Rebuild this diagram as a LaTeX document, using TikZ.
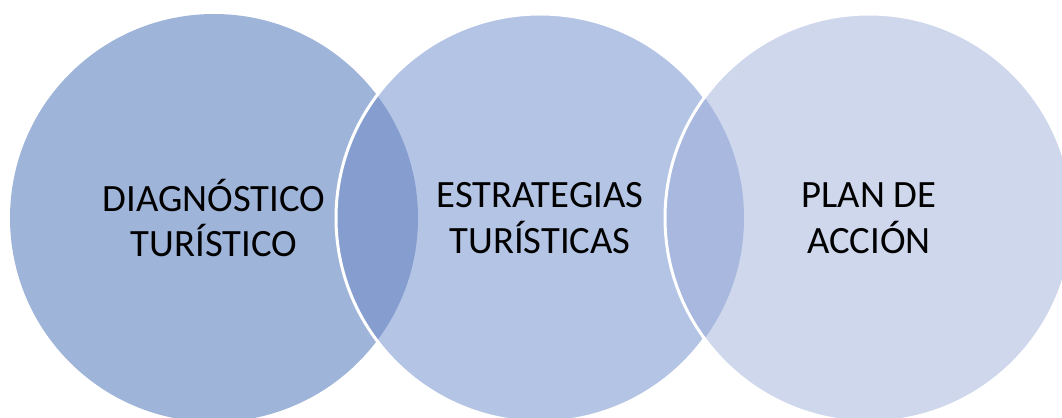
\documentclass[tikz,border=0pt]{standalone}
\usepackage{fontspec}
\setmainfont{Carlito}
\usepackage{tikz}
\definecolor{circA}{HTML}{9FB4D9}
\definecolor{circB}{HTML}{B4C4E4}
\definecolor{circC}{HTML}{CED7EC}
\definecolor{lensAB}{HTML}{859ECF}
\definecolor{lensBC}{HTML}{A8B8DE}
\def\rad{204}
\begin{document}
\begin{tikzpicture}[x=0.02cm, y=-0.02cm,
	lbl/.style={align=center, inner sep=0pt, font=\fontsize{22}{26}\selectfont},
	rim/.style={draw=white, line width=0.06cm}]
	%frame
	\useasboundingbox (0,0) rectangle (1062,418);
	\clip (0,0) rectangle (1062,418);
	
	%centres
	\coordinate (cA) at (214,218);
	\coordinate (cB) at (540,218);
	\coordinate (cC) at (869,218);
	
	%circles, left to right
	\fill[circA] (cA) circle (\rad);
	\fill[circB] (cB) circle (\rad);
	\begin{scope}
		\clip (cA) circle (\rad);
		\fill[lensAB] (cB) circle (\rad);	%overlap 1-2
	\end{scope}
	\draw[rim] (cB) circle (\rad);
	\fill[circC] (cC) circle (\rad);
	\begin{scope}
		\clip (cB) circle (\rad);
		\fill[lensBC] (cC) circle (\rad);	%overlap 2-3
	\end{scope}
	\draw[rim] (cC) circle (\rad);
	
	%labels
	\node[lbl] (diag) at (cA) {DIAGNÓSTICO\\TURÍSTICO};
	\node[lbl] (estr) at (cB) {ESTRATEGIAS\\TURÍSTICAS};
	\node[lbl] (plan) at (cC) {PLAN DE\\ACCIÓN};
\end{tikzpicture}
\end{document}
